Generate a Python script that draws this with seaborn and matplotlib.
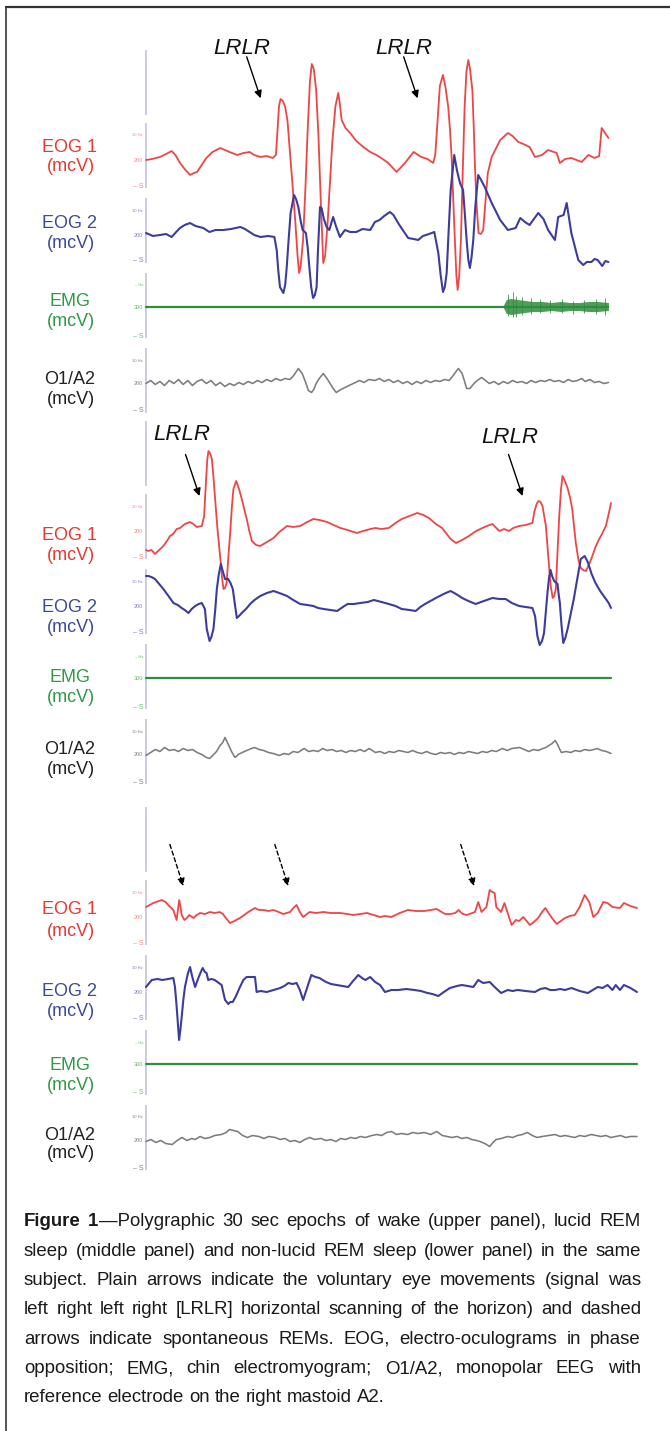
"""
plot.py - polygraphic 30 s epochs (wake / lucid REM / non-lucid REM), redrawn with seaborn.
Amplitudes are display units read off the figure (up = positive), time in seconds.
"""
import numpy as np
import matplotlib
matplotlib.use("Agg")
import matplotlib.pyplot as plt
from matplotlib import font_manager
from matplotlib.lines import Line2D
import seaborn as sns

# -------------------------
# DATA (time s, amplitude)
# -------------------------
CHANNELS = ["EOG 1", "EOG 2", "EMG", "O1/A2"]
UNIT = "(mcV)"

# upper panel: wake
WAKE_EOG1 = [(0.0, 1), (0.4, 2), (0.9, 4), (1.3, 7), (1.66, 10), (1.9, 6), (2.2, -2), (2.5, -8), (2.85, -14),
             (3.1, -12), (3.3, -11), (3.6, -4), (3.9, 3), (4.3, 9), (4.8, 13), (5.1, 11), (5.4, 9), (5.9, 6),
             (6.3, 8), (6.7, 9), (7.0, 6), (7.4, 4), (7.8, 5), (8.2, 3), (8.4, 6), (8.5, 30), (8.6, 55), (8.7, 62),
             (8.85, 60), (9.0, 54), (9.15, 40), (9.3, 10), (9.5, -29), (9.65, -60), (9.8, -95), (9.9, -112),
             (10.0, -105), (10.15, -80), (10.3, -30), (10.45, 30), (10.6, 80), (10.72, 97), (10.85, 92), (11.0, 71),
             (11.15, 25), (11.3, -40), (11.46, -102), (11.58, -95), (11.75, -60), (11.9, -20), (12.05, 20),
             (12.25, 55), (12.43, 68), (12.55, 55), (12.65, 41), (12.9, 33), (13.2, 28), (13.6, 20), (14.05, 14),
             (14.5, 9), (14.9, 6), (15.3, 2), (15.66, -2), (16.2, -11), (16.74, -2), (17.3, 9), (17.8, 4), (18.2, 2),
             (18.57, -2), (18.7, 6), (18.85, 40), (19.0, 75), (19.2, 86), (19.35, 75), (19.54, 54), (19.66, 30),
             (19.76, 4), (19.87, -40), (19.97, -79), (20.07, -115), (20.15, -129), (20.25, -115), (20.36, -79),
             (20.48, -10), (20.6, 54), (20.72, 90), (20.84, 101), (20.95, 92), (21.1, 71), (21.2, 30), (21.27, -6),
             (21.38, -45), (21.5, -72), (21.65, -73), (21.8, -69), (21.95, -40), (22.1, -12), (22.35, 4),
             (22.9, 21), (23.4, 28), (23.7, 25), (24.07, 19), (24.4, 17), (24.8, 14), (25.15, 4), (25.6, 6),
             (26.0, 11), (26.55, 8), (26.76, -2), (27.1, 2), (27.5, 3), (28.17, -1), (28.6, 6), (29.0, 3),
             (29.3, 5), (29.46, 33), (29.9, 23)]
WAKE_EOG2 = [(0.0, 2), (0.45, -1), (0.9, 0), (1.3, 1), (1.66, -2), (1.95, 3), (2.2, 7), (2.5, 10), (2.85, 12),
             (3.2, 9), (3.7, 7), (4.1, 3), (4.5, 5), (5.0, 5), (5.5, 6), (6.1, 8), (6.4, 6), (6.7, 3), (7.0, 0),
             (7.4, -2), (7.9, -1), (8.3, -2), (8.45, -15), (8.55, -35), (8.66, -52), (8.88, -58), (9.0, -50),
             (9.1, -32), (9.22, -5), (9.35, 22), (9.57, 40), (9.7, 36), (9.85, 28), (10.0, 14), (10.13, 5),
             (10.34, 2), (10.45, -12), (10.56, -32), (10.68, -52), (10.8, -63), (10.92, -60), (11.03, -52),
             (11.12, -15), (11.25, 28), (11.35, 27), (11.5, 16), (11.68, 8), (11.85, 5), (12.1, 18), (12.3, 8),
             (12.54, -2), (12.86, 5), (13.2, 3), (13.6, 3), (14.0, 6), (14.5, 5), (14.8, 13), (15.1, 15),
             (15.4, 19), (15.77, 23), (16.0, 20), (16.3, 12), (16.6, 5), (16.95, -3), (17.3, -4), (17.6, -5),
             (17.9, -1), (18.3, 1), (18.64, 3), (18.9, -18), (19.05, -40), (19.2, -57), (19.32, -52), (19.44, -38),
             (19.57, 5), (19.7, 45), (19.93, 80), (20.1, 65), (20.3, 52), (20.5, 45), (20.62, 20), (20.73, -5),
             (20.84, -25), (20.94, -33), (21.05, -22), (21.16, -5), (21.3, 30), (21.48, 60), (21.7, 54),
             (21.9, 48), (22.35, 32), (22.9, 15), (23.4, 5), (23.9, 7), (24.2, 17), (24.5, 13), (24.8, 10),
             (25.36, 22), (25.7, 16), (26.0, 5), (26.44, -5), (26.65, 18), (27.0, 20), (27.2, 32), (27.5, 2),
             (27.95, -25), (28.27, -30), (28.5, -27), (28.8, -27), (29.0, -24), (29.2, -25), (29.5, -31),
             (29.7, -26), (29.9, -27)]
WAKE_EMG = [(0.0, 0), (29.9, 0)]
# chin EMG burst at the end of the wake epoch: envelope and tallest spikes
WAKE_BURST_T = [23.1, 23.3, 23.6, 24.0, 24.5, 25.0, 25.6, 26.2, 26.8, 27.4, 28.0, 28.6, 29.2, 29.9]
WAKE_BURST_UP = [1, 7, 8, 7, 6, 5, 5, 4, 5, 4, 4, 5, 5, 4]
WAKE_BURST_LO = [-1, -7, -8, -7, -6, -5, -5, -4, -5, -4, -4, -5, -5, -4]
WAKE_SPIKES = [(23.4, 13, -9), (23.7, 15, -10), (23.95, 11, -10), (24.3, 10, -8), (24.9, 9, -7), (25.5, 8, -6),
               (26.1, 7, -6), (26.9, 8, -6), (27.6, 6, -7), (28.3, 7, -6), (29.1, 8, -7), (29.7, 9, -8)]
WAKE_O1 = [(0.0, 0), (0.3, 3), (0.6, -1), (0.9, 2), (1.2, -2), (1.5, 3), (1.8, 0), (2.1, 4), (2.4, -1), (2.7, 3),
           (3.0, -2), (3.3, 2), (3.6, 4), (3.9, 0), (4.2, 3), (4.5, -2), (4.8, 1), (5.1, -3), (5.4, 0), (5.7, -2),
           (6.0, 1), (6.3, -1), (6.6, 2), (6.9, 0), (7.2, 3), (7.5, 1), (7.8, 4), (8.1, 2), (8.4, 5), (8.7, 3),
           (9.0, 5), (9.3, 4), (9.55, 8), (9.85, 15), (10.1, 10), (10.3, 2), (10.5, -7), (10.7, -9), (10.85, -6),
           (11.0, 0), (11.2, 5), (11.46, 10), (11.7, 5), (11.9, 0), (12.1, -5), (12.3, -9), (12.6, -6), (13.0, -3),
           (13.4, 0), (13.8, 3), (14.1, 1), (14.4, 4), (14.8, 3), (15.1, 5), (15.4, 2), (15.7, 4), (16.0, 1),
           (16.3, 3), (16.6, 0), (16.9, 2), (17.2, -1), (17.5, 2), (17.8, 0), (18.1, 3), (18.4, 1), (18.7, 3),
           (19.0, 2), (19.3, 4), (19.6, 3), (19.76, 6), (20.0, 11), (20.2, 15), (20.44, 10), (20.6, 2),
           (20.73, -5), (20.94, -5), (21.1, -2), (21.27, 1), (21.5, 4), (21.7, 6), (21.95, 3), (22.2, 0),
           (22.5, 2), (22.8, -1), (23.1, 2), (23.4, 0), (23.7, 3), (24.0, 1), (24.3, 2), (24.6, 0), (24.9, 3),
           (25.2, 1), (25.5, 3), (25.8, 2), (26.1, 4), (26.4, 2), (26.7, 3), (27.0, 1), (27.3, 4), (27.6, 2),
           (27.9, 3), (28.17, 5), (28.4, 2), (28.7, 4), (29.0, 1), (29.3, 2), (29.6, 0), (29.9, 1)]

# middle panel: lucid REM sleep
LUCID_EOG1 = [(0.0, -18), (0.15, -19), (0.35, -18), (0.58, -22), (0.85, -18), (1.12, -14), (1.35, -9),
              (1.55, -4), (1.75, -2), (1.98, 3), (2.2, 4), (2.5, 8), (2.84, 10), (3.05, 8), (3.28, 5), (3.6, 6),
              (3.75, 16), (3.85, 45), (3.95, 72), (4.03, 81), (4.15, 78), (4.25, 73), (4.35, 55), (4.46, 33),
              (4.6, 5), (4.78, -24), (4.9, -45), (5.0, -57), (5.1, -56), (5.2, -51), (5.3, -28), (5.43, -1),
              (5.54, 25), (5.64, 43), (5.82, 51), (6.0, 43), (6.18, 33), (6.35, 22), (6.5, 13), (6.65, 2),
              (6.83, -9), (7.1, -13), (7.37, -14), (7.8, -10), (8.23, -6), (8.6, 0), (9.1, 6), (9.5, 5), (9.95, 6),
              (10.4, 10), (10.8, 13), (11.2, 12), (11.68, 10), (12.1, 7), (12.54, 4), (13.0, 2), (13.6, -1),
              (14.0, 1), (14.48, 3), (14.8, 4), (15.2, 3), (15.66, 4), (16.1, 9), (16.5, 13), (17.0, 16),
              (17.5, 19), (17.9, 17), (18.25, 14), (18.7, 8), (19.1, 4), (19.4, -2), (19.65, -7), (20.0, -11),
              (20.4, -8), (20.83, -4), (21.3, 1), (21.7, 4), (22.0, 6), (22.35, 8), (22.6, 4), (22.8, 1), (23.1, 3),
              (23.42, 1), (23.7, 4), (24.07, 6), (24.5, 7), (24.93, 9), (25.05, 20), (25.2, 28), (25.32, 31),
              (25.45, 30), (25.58, 26), (25.7, 15), (25.8, 6), (25.9, -14), (26.0, -34), (26.12, -55),
              (26.24, -66), (26.34, -64), (26.44, -57), (26.55, -20), (26.66, 16), (26.77, 42), (26.87, 56),
              (27.0, 52), (27.2, 44), (27.35, 35), (27.5, 23), (27.62, 5), (27.73, -11), (27.9, -28), (28.05, -36),
              (28.2, -38), (28.38, -39), (28.6, -32), (28.8, -24), (29.0, -15), (29.24, -7), (29.45, -1),
              (29.67, 6), (29.85, 18), (30.0, 29)]
LUCID_EOG2 = [(0.0, 30), (0.15, 30), (0.35, 29), (0.58, 27), (0.85, 22), (1.12, 17), (1.45, 10), (1.77, 3),
              (2.05, 1), (2.3, -2), (2.5, -4), (2.74, -7), (2.95, -3), (3.17, 0), (3.4, 2), (3.6, 3), (3.8, -3),
              (3.92, -23), (4.1, -35), (4.22, -31), (4.35, -23), (4.46, -5), (4.57, 17), (4.7, 32), (4.83, 42),
              (4.95, 35), (5.1, 27), (5.3, 27), (5.45, 23), (5.6, 17), (5.75, 0), (5.86, -12), (6.0, -10),
              (6.18, -7), (6.45, -3), (6.72, 2), (7.0, 6), (7.37, 10), (7.8, 13), (8.23, 15), (8.6, 13), (9.1, 10),
              (9.5, 6), (9.95, 2), (10.4, 1), (10.8, 0), (11.1, -2), (11.46, -3), (11.9, -4), (12.33, -5),
              (12.7, -1), (13.0, 2), (13.4, 2), (13.83, 3), (14.3, 4), (14.7, 6), (15.2, 4), (15.66, 2), (16.1, 0),
              (16.5, -3), (17.0, -4), (17.4, -5), (17.7, -1), (18.0, 2), (18.35, 5), (18.7, 8), (19.2, 12),
              (19.65, 15), (20.0, 12), (20.4, 8), (20.8, 5), (21.27, 2), (21.8, 5), (22.35, 8), (22.8, 7),
              (23.2, 7), (23.6, 3), (24.07, 0), (24.5, -1), (24.93, -2), (25.1, -10), (25.25, -30), (25.4, -39),
              (25.55, -35), (25.68, -27), (25.8, -5), (25.9, 13), (26.0, 28), (26.1, 36), (26.2, 30), (26.33, 25),
              (26.55, 22), (26.62, 12), (26.7, 3), (26.8, -18), (26.92, -37), (27.05, -32), (27.2, -23),
              (27.4, -8), (27.6, 7), (27.8, 25), (28.05, 47), (28.3, 50), (28.5, 44), (28.75, 32), (29.0, 23),
              (29.3, 15), (29.67, 7), (29.85, 3), (30.0, -2)]
LUCID_EMG = [(0.0, 0), (30.0, 0)]
LUCID_O1 = [(0.0, -1), (0.3, 2), (0.6, 5), (0.9, 3), (1.2, 7), (1.5, 4), (1.8, 5), (2.1, 3), (2.4, 6), (2.7, 4),
            (3.0, 5), (3.3, 2), (3.6, 0), (3.9, -3), (4.1, -4), (4.3, -1), (4.55, 3), (4.78, 9), (4.95, 12),
            (5.1, 17), (5.25, 12), (5.4, 7), (5.55, 2), (5.75, -3), (5.95, 0), (6.2, 2), (6.5, 4), (6.8, 6),
            (7.0, 7), (7.3, 5), (7.6, 4), (7.9, 2), (8.2, 1), (8.6, -1), (8.9, 1), (9.2, 0), (9.5, 3), (9.8, 2),
            (10.2, 6), (10.5, 3), (10.8, 4), (11.1, 3), (11.4, 6), (11.7, 4), (12.0, 5), (12.3, 3), (12.6, 4),
            (12.9, 2), (13.2, 4), (13.5, 3), (13.8, 5), (14.1, 3), (14.4, 6), (14.8, 2), (15.1, 3), (15.4, 1),
            (15.7, 3), (16.0, 2), (16.3, 4), (16.6, 3), (16.9, 2), (17.2, 4), (17.5, 2), (17.8, 1), (18.1, 3),
            (18.4, 1), (18.7, 0), (19.0, 2), (19.3, 1), (19.6, 2), (19.9, 0), (20.2, 2), (20.5, 1), (20.8, 3),
            (21.1, 2), (21.4, 1), (21.7, 3), (22.0, 2), (22.3, 4), (22.6, 3), (23.0, 6), (23.3, 4), (23.6, 6),
            (24.1, 7), (24.4, 5), (24.7, 3), (25.0, 5), (25.3, 4), (25.6, 6), (25.8, 7), (26.0, 9), (26.2, 11),
            (26.4, 14), (26.55, 10), (26.7, 5), (26.8, 2), (27.1, 3), (27.4, 2), (27.7, 4), (28.0, 3), (28.3, 5),
            (28.6, 4), (28.9, 5), (29.1, 6), (29.4, 4), (29.7, 3), (30.0, 1)]

# lower panel: non-lucid REM sleep
NONLUCID_EOG1 = [(0.0, 11), (0.45, 15), (0.96, 18), (1.2, 16), (1.36, 13), (1.67, 8), (1.87, -2), (1.95, 8),
                 (2.03, 18), (2.1, 12), (2.18, 3), (2.35, -2), (2.5, 0), (2.65, 3), (2.9, 0), (3.1, 3), (3.3, 5),
                 (3.6, 4), (3.9, 6), (4.2, 5), (4.5, 6), (4.7, 4), (4.83, 1), (5.13, -5), (5.4, -3), (5.74, 0),
                 (6.0, 3), (6.25, 6), (6.66, 10), (6.9, 8), (7.17, 8), (7.5, 7), (7.78, 8), (8.1, 6), (8.39, 4),
                 (8.8, 6), (9.0, 10), (9.2, 13), (9.4, 6), (9.6, 1), (10.0, 6), (10.4, 5), (10.83, 6), (11.3, 5),
                 (11.85, 5), (12.3, 4), (12.66, 3), (13.1, 4), (13.5, 5), (13.9, 3), (14.3, 1), (14.6, 2), (15.0, 1),
                 (15.5, 5), (16.0, 8), (16.5, 7), (17.0, 7), (17.4, 8), (17.76, 9), (18.27, 4), (18.6, 4), (18.9, 5),
                 (19.1, 8), (19.35, 4), (19.6, 3), (20.1, 6), (20.3, 16), (20.5, 6), (20.8, 11), (21.0, 28),
                 (21.15, 26), (21.3, 25), (21.4, 11), (21.7, 6), (21.9, 15), (22.1, 5), (22.34, -7), (22.6, -2),
                 (22.8, -3), (23.05, 1), (23.46, -7), (23.7, -4), (23.96, 0), (24.2, 6), (24.4, 10), (24.6, 5),
                 (24.8, 0), (25.1, -6), (25.35, -3), (25.6, 0), (25.9, 2), (26.2, 3), (26.5, 11), (26.8, 23),
                 (27.0, 18), (27.1, 15), (27.33, 1), (27.6, 5), (27.94, 16), (28.2, 15), (28.5, 11), (28.96, 10),
                 (29.2, 15), (29.6, 12), (30.0, 10)]
NONLUCID_EOG2 = [(0.0, 5), (0.35, 12), (0.7, 13), (1.0, 12), (1.35, 13), (1.67, 14), (1.77, 5), (1.85, -10),
                 (1.92, -25), (2.02, -48), (2.1, -38), (2.18, -25), (2.28, -8), (2.38, 5), (2.55, 18), (2.69, 25),
                 (2.83, 15), (3.0, 5), (3.2, 14), (3.35, 20), (3.46, 24), (3.6, 20), (3.7, 19), (3.8, 12), (4.0, 13),
                 (4.2, 12), (4.45, 9), (4.62, 7), (4.83, -8), (5.03, -12), (5.15, -10), (5.3, -10), (5.5, -4),
                 (5.74, 5), (5.95, 12), (6.15, 15), (6.4, 15), (6.66, 15), (6.76, 0), (7.0, 1), (7.37, 0), (7.8, 2),
                 (8.2, 4), (8.45, 6), (8.7, 9), (8.95, 8), (9.2, 9), (9.4, 2), (9.6, -8), (9.8, 2), (10.1, 17),
                 (10.35, 15), (10.6, 14), (11.0, 10), (11.3, 8), (11.65, 7), (12.0, 6), (12.36, 5), (12.6, 10),
                 (12.97, 17), (13.2, 14), (13.4, 12), (13.7, 15), (14.0, 10), (14.3, 7), (14.6, 0), (15.0, 2),
                 (15.4, 2), (15.9, 3), (16.4, 2), (16.8, 1), (17.2, -1), (17.5, -2), (17.86, -4), (18.2, 0),
                 (18.57, 4), (19.0, 6), (19.3, 7), (19.65, 6), (20.0, 5), (20.3, 12), (20.6, 9), (21.0, 10),
                 (21.3, 5), (21.7, -1), (22.1, 2), (22.4, 1), (22.7, 2), (23.2, 1), (23.76, 0), (24.1, 3), (24.4, 4),
                 (24.7, 2), (25.0, 2), (25.3, 3), (25.6, 2), (26.0, 4), (26.5, 1), (27.0, -1), (27.3, 2), (27.6, 5),
                 (27.9, 4), (28.2, 7), (28.5, 2), (28.7, 7), (28.96, 2), (29.2, 7), (29.6, 4), (30.0, 0)]
NONLUCID_EMG = [(0.0, 0), (30.0, 0)]
NONLUCID_O1 = [(0.0, -1), (0.3, 1), (0.6, -2), (0.9, 0), (1.2, -3), (1.6, -4), (1.9, 0), (2.2, 3), (2.5, 0),
               (2.8, 2), (3.0, 1), (3.3, 4), (3.6, 2), (3.9, 3), (4.2, 5), (4.6, 6), (4.9, 8), (5.1, 11), (5.35, 10),
               (5.6, 9), (5.9, 5), (6.2, 3), (6.5, 5), (6.9, 4), (7.2, 2), (7.5, 4), (7.9, 3), (8.2, 1), (8.5, 2),
               (8.8, -1), (9.1, 0), (9.4, -2), (9.7, 1), (10.0, 3), (10.3, 1), (10.7, 2), (11.0, 0), (11.3, 1),
               (11.6, -1), (11.9, 2), (12.2, 1), (12.5, 3), (12.8, 2), (13.1, 4), (13.4, 3), (13.8, 5), (14.1, 6),
               (14.4, 5), (14.7, 8), (15.0, 9), (15.3, 6), (15.6, 7), (16.0, 6), (16.3, 8), (16.6, 7), (17.0, 8),
               (17.4, 6), (17.76, 9), (18.1, 5), (18.4, 4), (18.7, 3), (19.0, 4), (19.3, 2), (19.6, 3), (19.9, 1),
               (20.2, 0), (20.4, -1), (20.7, -3), (21.0, -6), (21.2, -2), (21.4, 1), (21.7, 2), (22.1, 4), (22.4, 3),
               (22.7, 5), (23.0, 6), (23.3, 8), (23.6, 5), (23.9, 3), (24.2, 4), (24.6, 5), (25.0, 6), (25.3, 4),
               (25.6, 5), (25.9, 4), (26.2, 3), (26.5, 5), (26.8, 4), (27.2, 6), (27.5, 5), (27.8, 4), (28.1, 5),
               (28.4, 3), (28.7, 4), (29.0, 5), (29.3, 3), (29.6, 4), (30.0, 4)]

# arrow tips (time s): plain = voluntary LRLR, dashed = spontaneous REMs
WAKE_LRLR = [7.41, 17.56]
LUCID_LRLR = [3.45, 24.29]
NONLUCID_REMS = [2.28, 8.69, 20.05]

CAPTION_LINES = [
    "Figure 1—Polygraphic 30 sec epochs of wake (upper panel), lucid REM",
    "sleep (middle panel) and non-lucid REM sleep (lower panel) in the same",
    "subject. Plain arrows indicate the voluntary eye movements (signal was",
    "left right left right [LRLR] horizontal scanning of the horizon) and dashed",
    "arrows indicate spontaneous REMs. EOG, electro-oculograms in phase",
    "opposition; EMG, chin electromyogram; O1/A2, monopolar EEG with",
    "reference electrode on the right mastoid A2.",
]

# -------------------------
# Style / layout
# -------------------------
W, H, DPI = 670, 1431, 100
RED, BLUE, GREEN, GREY = "#ee4545", "#3c3c9c", "#2f8c3c", "#7c7c7c"
LABEL_COL = ["#e8382f", "#3b4a9a", "#2e9a44", "#222222"]
TICK_COL = ["#f08a8a", "#7c7cc4", "#6ab46e", "#808080"]
AXIS_COL = "#c6c6e8"

sns.set_theme(style="white")
plt.rcParams["font.family"] = ["Liberation Sans", "DejaVu Sans"]

names = {f.name for f in font_manager.fontManager.ttflist}
CAP_FONT = "Liberation Sans Narrow" if "Liberation Sans Narrow" in names else "Liberation Sans"

fig = plt.figure(figsize=(W / DPI, H / DPI), dpi=DPI, facecolor="white")


def fx(px):
    return px / W


def fy(py):
    return 1 - py / H


PANEL_H = 370
SEG_TOPS = [0, 73, 148, 223, 298]
SEG_LEN = 65
BASE = [111, 185, 256.5, 333.5]       # baseline of each channel inside a panel
TICK_MID = [37, 37, 34, 35]

PANELS = [
    # top px, right px, traces, label baselines (name, unit) per channel
    dict(top=50, right=610, traces=[WAKE_EOG1, WAKE_EOG2, WAKE_EMG, WAKE_O1],
         labels=[(151.5, 171), (228, 248), (305.5, 326.5), (384.5, 404.5)]),
    dict(top=421, right=611, traces=[LUCID_EOG1, LUCID_EOG2, LUCID_EMG, LUCID_O1],
         labels=[(540, 560.5), (611.5, 631.5), (682.5, 702.5), (754.5, 773.5)]),
    dict(top=807, right=637, traces=[NONLUCID_EOG1, NONLUCID_EOG2, NONLUCID_EMG, NONLUCID_O1],
         labels=[(914.5, 935.5), (996.5, 1016.5), (1069.5, 1089.5), (1139.5, 1158.5)]),
]
TRACE_STYLE = [(RED, 1.3), (BLUE, 1.5), (GREEN, 1.6), (GREY, 1.15)]

axes = []
for p in PANELS:
    top, right = p["top"], p["right"]
    ax = fig.add_axes([fx(146), fy(top + PANEL_H), fx(right) - fx(146), PANEL_H / H])
    ax.set_xlim(0, 30)
    ax.set_ylim(PANEL_H, 0)
    ax.set_facecolor("none")
    sns.despine(ax=ax, left=True, bottom=True)
    ax.set_xticks([])

    # channel scale segments on the left edge
    for s in SEG_TOPS:
        ax.vlines(0, s, s + SEG_LEN, color=AXIS_COL, lw=1.3, clip_on=False)

    # tiny calibration labels as y ticks
    ticks, labels, cols, sizes = [], [], [], []
    for c in range(4):
        s = SEG_TOPS[c + 1]
        ticks += [s + 12, s + TICK_MID[c], s + 62]
        labels += ["– Hz" if c == 2 else "10 Hz", "300" if c == 2 else "200", "– S"]
        cols += [TICK_COL[c]] * 3
        sizes += [3.0, 4.0, 5.0]
    ax.set_yticks(ticks, labels)
    ax.tick_params(axis="y", length=0, pad=2)
    for lab, col, sz in zip(ax.get_yticklabels(), cols, sizes):
        lab.set_color(col)
        lab.set_fontsize(sz)

    # traces
    for c, series in enumerate(p["traces"]):
        t = [a for a, _ in series]
        v = np.array([b for _, b in series], dtype=float)
        col, lw = TRACE_STYLE[c]
        sns.lineplot(x=t, y=BASE[c] - v, ax=ax, color=col, linewidth=lw,
                     estimator=None, sort=False, legend=False)
        for ln in ax.lines[-1:]:
            ln.set_clip_on(False)

    # channel names
    for c, (yb1, yb2) in enumerate(p["labels"]):
        fig.text(fx(70), fy(yb1), CHANNELS[c], ha="center", va="baseline",
                 fontsize=13, color=LABEL_COL[c])
        fig.text(fx(71), fy(yb2), UNIT, ha="center", va="baseline",
                 fontsize=13, color=LABEL_COL[c])
    axes.append(ax)

# EMG burst in the wake epoch
ax0 = axes[0]
b = BASE[2]
ax0.fill_between(WAKE_BURST_T, b - np.array(WAKE_BURST_UP), b - np.array(WAKE_BURST_LO),
                 color=GREEN, alpha=0.85, lw=0)
ax0.vlines([s[0] for s in WAKE_SPIKES], [b - s[1] for s in WAKE_SPIKES], [b - s[2] for s in WAKE_SPIKES],
           color=GREEN, lw=0.7, alpha=0.8)

# arrows + LRLR labels
ARROW_DT, ARROW_DY = -0.9, -41.5


def arrow(ax, tip_t, tip_y, dashed=False, dt=ARROW_DT):
    props = dict(arrowstyle="-|>", color="black", lw=1.0, mutation_scale=11,
                 shrinkA=0, shrinkB=0)
    if dashed:
        props["linestyle"] = (0, (3, 2))
    ax.annotate("", xy=(tip_t, tip_y), xytext=(tip_t + dt, tip_y + ARROW_DY),
                arrowprops=props, annotation_clip=False)


for tip, lbl_t in zip(WAKE_LRLR, [6.2, 16.68]):
    arrow(axes[0], tip, 48.3)
    axes[0].text(lbl_t, 3.5, "LRLR", ha="center", va="baseline", fontsize=16,
                 style="italic", color="#111111", clip_on=False)
for tip, lbl_t, ly in zip(LUCID_LRLR, [2.31, 23.48], [19, 22]):
    arrow(axes[1], tip, 75)
    axes[1].text(lbl_t, ly, "LRLR", ha="center", va="baseline", fontsize=16,
                 style="italic", color="#111111", clip_on=False)
for tip in NONLUCID_REMS:
    arrow(axes[2], tip, 79, dashed=True, dt=-0.82)

# frame
fig.add_artist(Line2D([fx(5.5), fx(5.5)], [0, fy(7)], transform=fig.transFigure, color="#333333", lw=1.2))
fig.add_artist(Line2D([fx(5.5), 1], [fy(7), fy(7)], transform=fig.transFigure, color="#333333", lw=1.6))

# -------------------------
# Caption, justified between x=24 and x=641
# -------------------------
renderer = fig.canvas.get_renderer()
CAP_L, CAP_R = 24, 641
CAP_BASE0, CAP_STEP = 1226.5, 29.3


def segments(tok, first):
    if first and tok == "Figure":
        return [(tok, "bold")]
    if first and tok.startswith("1—"):
        return [("1", "bold"), (tok[1:], "normal")]
    return [(tok, "normal")]


def width(txt, weight, fs):
    t = fig.text(0, 0, txt, fontsize=fs, fontweight=weight, family=[CAP_FONT, "DejaVu Sans"])
    w = t.get_window_extent(renderer).width
    t.remove()
    return w


# largest size (up to the reference's ~13.4 pt) at which every line fits naturally
cap_fs = 13.4
widest = max(width(line, "normal", cap_fs) for line in CAPTION_LINES)
cap_fs = cap_fs * min(1.0, (CAP_R - CAP_L - 4) / widest)
space_w = width("a b", "normal", cap_fs) - width("ab", "normal", cap_fs)

for i, line in enumerate(CAPTION_LINES):
    toks = [segments(tk, i == 0) for tk in line.split(" ")]
    tok_w = [[width(s, wt, cap_fs) for s, wt in tk] for tk in toks]
    total = sum(sum(ws) for ws in tok_w)
    last = i == len(CAPTION_LINES) - 1
    gap = space_w if last else (CAP_R - CAP_L - total) / (len(toks) - 1)
    x = CAP_L
    yb = CAP_BASE0 + i * CAP_STEP
    for tk, ws in zip(toks, tok_w):
        for (s, wt), w in zip(tk, ws):
            fig.text(fx(x), fy(yb), s, fontsize=cap_fs, fontweight=wt, va="baseline", ha="left",
                     family=[CAP_FONT, "DejaVu Sans"], color="#1a1a1a")
            x += w
        x += gap

fig.savefig("out.png", dpi=DPI, facecolor="white")
